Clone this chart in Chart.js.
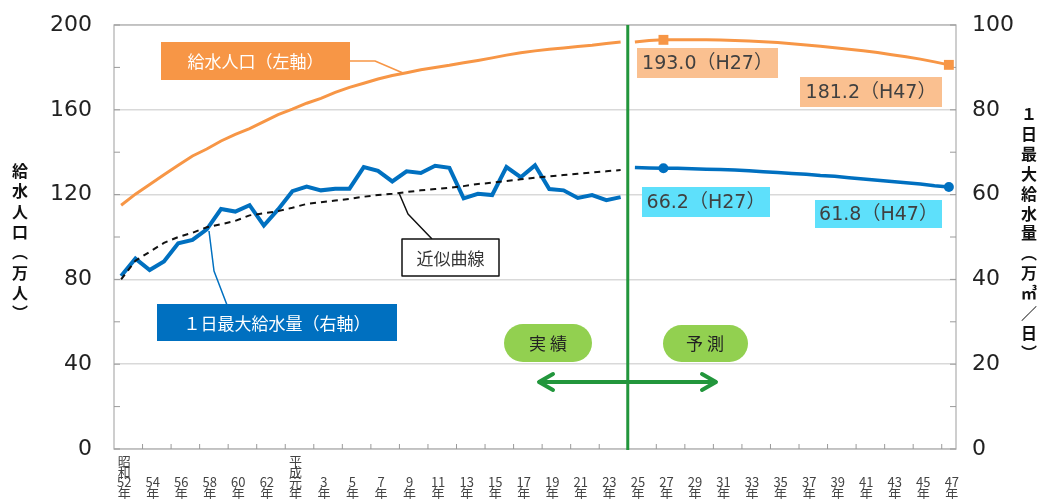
<!DOCTYPE html>
<html><head><meta charset="utf-8">
<script src="https://cdn.jsdelivr.net/npm/chart.js@4.4.1/dist/chart.umd.min.js"></script>
<style>html,body{margin:0;padding:0;background:#fff;}#wrap{position:relative;width:1043px;height:499px;}</style>
</head><body><div id="wrap"><canvas id="c"></canvas></div>
<script>
// ---- data ----
const categories = ['S52','S53','S54','S55','S56','S57','S58','S59','S60','S61','S62','S63',
 'H1','H2','H3','H4','H5','H6','H7','H8','H9','H10','H11','H12','H13','H14','H15','H16','H17','H18',
 'H19','H20','H21','H22','H23','H24',
 'H25','H26','H27','H28','H29','H30','H31','H32','H33','H34','H35','H36','H37','H38','H39','H40',
 'H41','H42','H43','H44','H45','H46','H47'];
const tickLabels = [['昭','和','52','年'],['54','年'],['56','年'],['58','年'],['60','年'],['62','年'],
 ['平','成','元','年'],['3','年'],['5','年'],['7','年'],['9','年'],['11','年'],['13','年'],['15','年'],
 ['17','年'],['19','年'],['21','年'],['23','年'],['25','年'],['27','年'],['29','年'],['31','年'],
 ['33','年'],['35','年'],['37','年'],['39','年'],['41','年'],['43','年'],['45','年'],['47','年']];
// 給水人口（万人）実績 S52–H24
const populationActual = [115.0,120.2,124.8,129.4,133.8,138.2,141.5,145.3,148.4,151.1,154.4,157.7,
 160.3,163.1,165.4,168.2,170.6,172.5,174.5,176.2,177.5,178.9,180.0,181.0,182.2,183.3,184.5,185.8,
 186.9,187.8,188.6,189.2,189.9,190.4,191.3,192.0];
// 給水人口 予測 H25–H47
const populationForecast = [192.0,192.7,193.0,193.1,193.1,193.0,192.9,192.7,192.4,192.1,191.7,191.2,
 190.6,190.0,189.3,188.6,187.8,187.0,186.0,185.0,183.9,182.6,181.2];
// 1日最大給水量（万㎥/日）実績 S52–H24
const maxSupplyActual = [40.8,44.9,42.2,44.2,48.5,49.3,51.8,56.6,56.0,57.5,52.7,56.5,
 60.8,61.9,61.0,61.4,61.4,66.5,65.6,63.1,65.5,65.1,66.8,66.3,59.1,60.2,59.9,66.5,64.1,66.9,
 61.3,61.0,59.2,59.9,58.7,59.4];
// 1日最大給水量 予測 H25–H47
const maxSupplyForecast = [66.4,66.3,66.2,66.2,66.1,66.0,65.9,65.8,65.6,65.4,65.2,65.0,
 64.8,64.5,64.3,64.0,63.7,63.4,63.1,62.8,62.5,62.1,61.8];
// 近似曲線（1日最大給水量）S52–H24
const trendValues = [40.0,44.4,46.5,48.6,50.0,51.0,52.3,53.0,53.8,55.1,55.6,56.1,56.9,57.8,58.2,
 58.6,59.0,59.5,59.9,60.2,60.6,61.0,61.3,61.6,62.0,62.5,62.8,63.2,63.6,64.0,64.3,64.6,64.9,65.2,
 65.5,65.8];
const markedYears = ['H27','H47'];
const leftTicks = [0,40,80,120,160,200];
const rightTicks = [0,20,40,60,80,100];

// ---- build ----
const nA = populationActual.length, nF = populationForecast.length;
const padF = a => a.concat(new Array(nF).fill(null));
const padA = a => new Array(nA).fill(null).concat(a);
const isMarked = ctx => markedYears.includes(categories[ctx.dataIndex]);
const CJK = '"Noto Sans CJK JP", "Noto Sans", sans-serif';
const NUM = '"DejaVu Sans", "Noto Sans CJK JP", sans-serif';

function line(ctx, pts){ctx.beginPath();ctx.moveTo(pts[0][0],pts[0][1]);for(let i=1;i<pts.length;i++)ctx.lineTo(pts[i][0],pts[i][1]);ctx.stroke();}
function pill(ctx,x,y,w,h,fill){const r=h/2;ctx.beginPath();ctx.moveTo(x+r,y);ctx.lineTo(x+w-r,y);ctx.arc(x+w-r,y+r,r,-Math.PI/2,Math.PI/2);ctx.lineTo(x+r,y+h);ctx.arc(x+r,y+r,r,Math.PI/2,Math.PI*1.5);ctx.closePath();ctx.fillStyle=fill;ctx.fill();}
function box(ctx,x,y,w,h,fill,text,font,color,stroke){
  ctx.fillStyle=fill;ctx.fillRect(x,y,w,h);
  if(stroke){ctx.strokeStyle=stroke;ctx.lineWidth=1.5;ctx.strokeRect(x,y,w,h);}
  ctx.font=font;ctx.fillStyle=color;ctx.textAlign='center';ctx.textBaseline='middle';
  ctx.fillText(text,x+w/2,y+h/2+1);
}
function vtext(ctx,chars,x,y0,step,font){
  ctx.font=font;ctx.fillStyle='#111';ctx.textAlign='center';ctx.textBaseline='middle';
  chars.forEach((c,i)=>ctx.fillText(c,x,y0+i*step));
}

const overlay = {
  id:'overlay',
  beforeDatasetsDraw(chart){
    const {ctx, chartArea:a, scales} = chart;
    ctx.save();
    ctx.strokeStyle='#b4b4b4';ctx.lineWidth=1.3;
    ctx.strokeRect(a.left,a.top,a.right-a.left,a.bottom-a.top);
    ctx.strokeStyle='#9a9a9a';ctx.lineWidth=1;
    for(let v=0;v<=200;v+=20){const y=scales.yL.getPixelForValue(v);line(ctx,[[a.left,y],[a.left+6,y]]);line(ctx,[[a.right-6,y],[a.right,y]]);}
    for(let k=2;k<categories.length;k+=2){const px=(scales.x.getPixelForValue(k-1)+scales.x.getPixelForValue(k))/2;line(ctx,[[px,a.bottom],[px,a.bottom-5]]);}
    ctx.restore();
  },
  afterDatasetsDraw(chart){
    const {ctx, chartArea:a, scales} = chart;
    const x=scales.x;
    ctx.save();
    // split line
    const sx=(x.getPixelForValue(nA-1)+x.getPixelForValue(nA))/2;
    ctx.strokeStyle='#22963c';ctx.lineWidth=3;line(ctx,[[sx,a.top],[sx,a.bottom+1]]);
    // arrow
    ctx.lineWidth=4;ctx.lineCap='round';ctx.lineJoin='round';
    line(ctx,[[540,382],[715,382]]);
    line(ctx,[[553,374],[539,382],[553,390]]);
    line(ctx,[[702,374],[716,382],[702,390]]);
    ctx.lineCap='butt';
    // pills
    pill(ctx,504,324,88,38,'#92D050');
    pill(ctx,663,325,85,37,'#92D050');
    ctx.font='17px '+CJK;ctx.fillStyle='#222';ctx.textAlign='center';ctx.textBaseline='middle';
    ctx.fillText('実 績',548,344);ctx.fillText('予 測',705,344);
    // leader lines
    ctx.lineWidth=1.5;
    ctx.strokeStyle='#F79646';line(ctx,[[350,61],[375,61],[403,73]]);
    ctx.strokeStyle='#0070C0';line(ctx,[[227,305],[214,271],[209,231]]);
    ctx.strokeStyle='#111';line(ctx,[[432,239],[408,214],[399,193]]);
    // legend boxes
    box(ctx,161,42,189,38,'#F79646','給水人口（左軸）','17px '+CJK,'#fff');
    box(ctx,157,304,240,37,'#0070C0','１日最大給水量（右軸）','17px '+CJK,'#fff');
    box(ctx,402,239,97,37,'#fff','近似曲線','17px '+CJK,'#333','#111');
    // value labels
    const iH27=categories.indexOf('H27')-nA, iH47=categories.indexOf('H47')-nA;
    box(ctx,637,48,141,30,'#FAC090',populationForecast[iH27].toFixed(1)+'（H27）','19px '+NUM,'#404040');
    box(ctx,800,77,142,30,'#FAC090',populationForecast[iH47].toFixed(1)+'（H47）','19px '+NUM,'#404040');
    box(ctx,642,187,128,30,'#5EE0FB',maxSupplyForecast[iH27].toFixed(1)+'（H27）','19px '+NUM,'#404040');
    box(ctx,815,200,127,28,'#5EE0FB',maxSupplyForecast[iH47].toFixed(1)+'（H47）','19px '+NUM,'#404040');
    // axis titles
    vtext(ctx,['給','水','人','口','︵','万','人','︶'],20,171,20.3,'bold 16px '+CJK);
    vtext(ctx,['１','日','最','大','給','水','量','︵','万','㎥','／','日','︶'],1029,114,19.9,'bold 16px '+CJK);
    ctx.restore();
  }
};

const fitY = w => s => { s.width = w; s.paddingTop = 0; s.paddingBottom = 0; };

new Chart(document.getElementById('c'), {
  type:'line',
  data:{
    labels:categories,
    datasets:[
      {label:'近似曲線',data:padF(trendValues),yAxisID:'yR',borderColor:'#111',borderWidth:2,borderDash:[6,5],pointRadius:0,fill:false},
      {label:'給水人口（実績）',data:padF(populationActual),yAxisID:'yL',borderColor:'#F79646',borderWidth:3,pointRadius:0,fill:false},
      {label:'給水人口（予測）',data:padA(populationForecast),yAxisID:'yL',borderColor:'#F79646',borderWidth:3,
        pointStyle:'rect',pointRadius:c=>isMarked(c)?7:0,pointBackgroundColor:'#F79646',pointBorderWidth:0,fill:false},
      {label:'１日最大給水量（実績）',data:padF(maxSupplyActual),yAxisID:'yR',borderColor:'#0070C0',borderWidth:4,pointRadius:0,fill:false},
      {label:'１日最大給水量（予測）',data:padA(maxSupplyForecast),yAxisID:'yR',borderColor:'#0070C0',borderWidth:3.5,
        pointStyle:'circle',pointRadius:c=>isMarked(c)?5:0,pointBackgroundColor:'#0070C0',pointBorderWidth:0,fill:false}
    ]
  },
  options:{
    responsive:true,maintainAspectRatio:false,animation:false,
    layout:{padding:{top:25,left:0,right:0,bottom:0}},
    plugins:{legend:{display:false},tooltip:{enabled:false}},
    scales:{
      x:{type:'category',offset:true,
        grid:{display:false},border:{display:false},
        ticks:{autoSkip:false,maxRotation:0,minRotation:0,padding:4,crossAlign:'far',labelOffset:3,
          color:'#444',font:{family:CJK,size:13,lineHeight:0.82},
          callback:(v,i)=> i%2===0 ? tickLabels[i/2] : ''},
        afterFit:s=>{s.height=50;s.paddingLeft=0;s.paddingRight=0;}},
      yL:{position:'left',min:0,max:200,
        afterBuildTicks:s=>{s.ticks=leftTicks.map(v=>({value:v}));},
        grid:{color:'#d9d9d9',lineWidth:1.5,drawTicks:false},border:{display:false},
        ticks:{padding:22,color:'#222',font:{family:NUM,size:22}},
        afterFit:fitY(114)},
      yR:{position:'right',min:0,max:100,
        afterBuildTicks:s=>{s.ticks=rightTicks.map(v=>({value:v}));},
        grid:{drawOnChartArea:false,drawTicks:false},border:{display:false},
        ticks:{padding:16,color:'#222',font:{family:NUM,size:22}},
        afterFit:fitY(87)}
    }
  },
  plugins:[overlay]
});
</script>
</body></html>
